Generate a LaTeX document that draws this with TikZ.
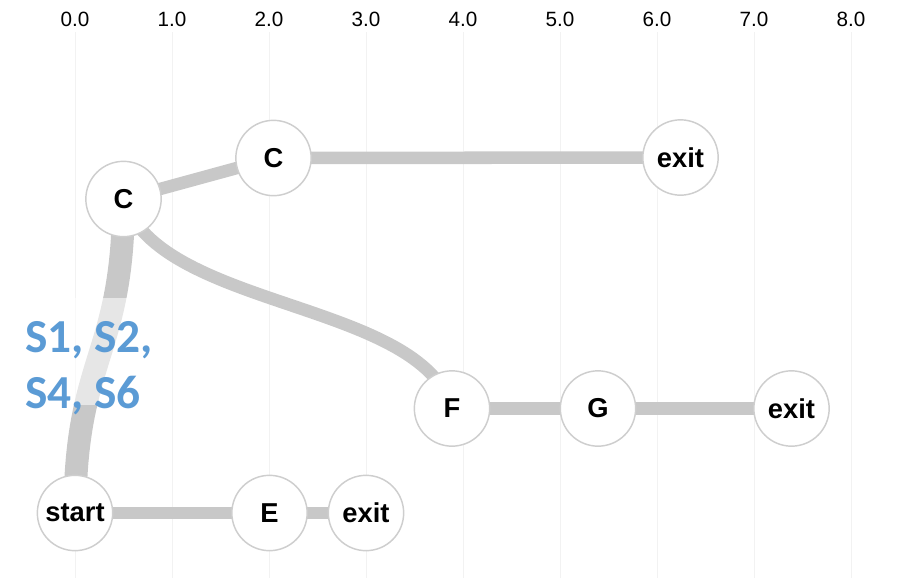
\documentclass[tikz,border=0pt]{standalone}
\usepackage{fontspec}
\setmainfont{Liberation Sans}
\newfontfamily\seqfont{Carlito}
\usetikzlibrary{backgrounds}
\definecolor{edgegray}{RGB}{200,200,200}
\definecolor{ringgray}{RGB}{206,206,206}
\definecolor{gridgray}{RGB}{242,242,242}
\definecolor{seqblue}{RGB}{91,155,213}
\pgfdeclarelayer{grid}
\pgfdeclarelayer{edges}
\pgfsetlayers{grid,edges,main}
\begin{document}
\begin{tikzpicture}[x=0.75pt,y=-0.75pt,
  state/.style={circle,draw=ringgray,line width=1.1pt,fill=white,
    minimum size=56.5pt,inner sep=0pt,
    font=\fontsize{20.5}{20.5}\selectfont\bfseries},
  flow/.style={draw=edgegray,line width=9.4pt},
  mainflow/.style={draw=edgegray,line width=17.2pt},
  tick/.style={font=\fontsize{15.5}{15.5}\selectfont},
  seqlabel/.style={text=seqblue,anchor=base west,inner sep=0pt,
    font=\seqfont\bfseries\fontsize{35.5}{42}\selectfont}
]
\useasboundingbox (0,0) rectangle (897,578);

% axis ticks and vertical grid lines
\begin{pgfonlayer}{grid}
\foreach \i in {0,...,8} {
  \node[tick] (tick\i) at (75+97*\i,19) {\i.0};
  \draw[gridgray,line width=0.75pt] (75+97*\i,32) -- (75+97*\i,578);
}
\end{pgfonlayer}

% states
\node[state] (start) at (75,513) {start};
\node[state] (e)     at (269.5,513) {E};
\node[state] (exA)   at (366,513) {exit};
\node[state] (c1)    at (123.5,199) {C};
\node[state] (c2)    at (273.5,158) {C};
\node[state] (exB)   at (680.5,157.5) {exit};
\node[state] (f)     at (452,408.5) {F};
\node[state] (g)     at (598,408.5) {G};
\node[state] (exC)   at (791.5,408.5) {exit};

% transitions
\begin{pgfonlayer}{edges}
\draw[mainflow] (start.center) .. controls (75,356) and (123.5,356) .. (c1.center);
\draw[flow] (start.center) -- (e.center);
\draw[flow] (e.center) -- (exA.center);
\draw[flow] (c1.center) -- (c2.center);
\draw[flow] (c2.center) -- (exB.center);
\draw[flow] (c1.center) .. controls (160,310) and (420,300) .. (f.center);
\draw[flow] (f.center) -- (g.center);
\draw[flow] (g.center) -- (exC.center);
\end{pgfonlayer}

% sequence label with its translucent backdrop
\fill[white,opacity=0.55] (20,298) rectangle (160,405);
\node[seqlabel] (seq1) at (25,352) {S1, S2,};
\node[seqlabel] (seq2) at (25,408) {S4, S6};
\end{tikzpicture}
\end{document}
